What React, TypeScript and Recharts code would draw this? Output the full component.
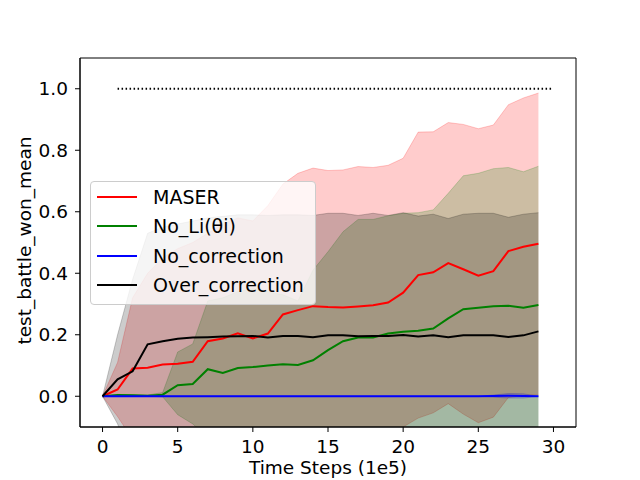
import React from "react";
import { ComposedChart, Area, Line, XAxis, YAxis, Legend, ReferenceArea } from "recharts";

// training steps (x 1e5)
const STEPS = [0, 1, 2, 3, 4, 5, 6, 7, 8, 9, 10, 11, 12, 13, 14, 15, 16, 17, 18, 19, 20, 21, 22, 23, 24, 25, 26, 27, 28, 29];

const MASER_MEAN = [0, 0.022, 0.09, 0.093, 0.103, 0.106, 0.112, 0.179, 0.188, 0.205, 0.188, 0.204, 0.266, 0.28, 0.293, 0.29, 0.289, 0.292, 0.296, 0.305, 0.337, 0.394, 0.403, 0.433, 0.413, 0.392, 0.407, 0.472, 0.486, 0.496];
const MASER_HI = [0, 0.11, 0.32, 0.4, 0.45, 0.48, 0.5, 0.53, 0.56, 0.58, 0.57, 0.62, 0.69, 0.725, 0.742, 0.734, 0.736, 0.747, 0.744, 0.751, 0.774, 0.859, 0.86, 0.89, 0.884, 0.87, 0.882, 0.948, 0.97, 0.986];
const MASER_LO = [0, -0.066, -0.14, -0.214, -0.244, -0.268, -0.276, -0.172, -0.184, -0.17, -0.194, -0.212, -0.158, -0.165, -0.156, -0.154, -0.158, -0.163, -0.152, -0.141, -0.1, -0.071, -0.054, -0.024, -0.058, -0.086, -0.068, -0.004, 0.002, 0.006];

const NOLI_MEAN = [0, 0.004, 0.003, 0.002, 0.005, 0.036, 0.04, 0.088, 0.076, 0.092, 0.095, 0.1, 0.104, 0.102, 0.117, 0.15, 0.179, 0.191, 0.191, 0.204, 0.21, 0.213, 0.22, 0.253, 0.283, 0.288, 0.293, 0.294, 0.288, 0.297];
const NOLI_HI = [0, 0.006, 0.005, 0.004, 0.012, 0.144, 0.17, 0.31, 0.32, 0.34, 0.35, 0.34, 0.33, 0.31, 0.41, 0.47, 0.535, 0.575, 0.575, 0.587, 0.595, 0.597, 0.606, 0.66, 0.717, 0.725, 0.74, 0.744, 0.73, 0.748];
const NOLI_LO = [0, 0.002, 0.001, 0, -0.002, -0.06, -0.09, -0.134, -0.168, -0.156, -0.16, -0.14, -0.122, -0.106, -0.176, -0.17, -0.177, -0.193, -0.193, -0.179, -0.175, -0.171, -0.166, -0.154, -0.151, -0.149, -0.154, -0.156, -0.154, -0.154];

const NOCORR_MEAN = [0, 0, 0, 0, 0, 0, 0, 0, 0, 0, 0, 0, 0, 0, 0, 0, 0, 0, 0, 0, 0, 0, 0, 0, 0, 0, 0.001, 0.002, 0.001, 0];
const NOCORR_HI = [0, 0, 0, 0, 0, 0, 0, 0, 0, 0, 0, 0, 0, 0, 0, 0, 0, 0, 0, 0, 0, 0, 0, 0, 0, 0, 0.004, 0.009, 0.008, 0];
const NOCORR_LO = [0, 0, 0, 0, 0, 0, 0, 0, 0, 0, 0, 0, 0, 0, 0, 0, 0, 0, 0, 0, 0, 0, 0, 0, 0, 0, -0.003, -0.006, -0.006, 0];

const OVER_MEAN = [0, 0.055, 0.081, 0.169, 0.179, 0.187, 0.191, 0.192, 0.194, 0.195, 0.196, 0.191, 0.196, 0.196, 0.192, 0.198, 0.198, 0.195, 0.196, 0.196, 0.199, 0.194, 0.198, 0.192, 0.198, 0.198, 0.198, 0.193, 0.198, 0.211];
const OVER_HI = [0, 0.2, 0.38, 0.53, 0.55, 0.56, 0.57, 0.58, 0.585, 0.59, 0.59, 0.588, 0.59, 0.59, 0.588, 0.595, 0.595, 0.588, 0.595, 0.588, 0.597, 0.586, 0.592, 0.578, 0.592, 0.595, 0.595, 0.582, 0.592, 0.597];
const OVER_LO = [0, -0.09, -0.218, -0.192, -0.192, -0.186, -0.188, -0.196, -0.197, -0.2, -0.198, -0.206, -0.198, -0.198, -0.204, -0.199, -0.199, -0.198, -0.203, -0.196, -0.199, -0.198, -0.196, -0.194, -0.196, -0.199, -0.199, -0.196, -0.196, -0.175];

// dotted target line (won rate 1.0)
const TARGET_STEPS = [1, 30];
const TARGET_WON = 1.0;

const X_DOMAIN = [-1.5, 31.5];
const Y_DOMAIN = [-0.1, 1.1];
const X_TICKS = [0, 5, 10, 15, 20, 25, 30];
const Y_TICKS = [0, 0.2, 0.4, 0.6, 0.8, 1.0];

const SERIES = [
  { key: "maser", label: "MASER", color: "#ff0000", mean: MASER_MEAN, lo: MASER_LO, hi: MASER_HI },
  { key: "noli", label: "No_Li(θi)", color: "#008000", mean: NOLI_MEAN, lo: NOLI_LO, hi: NOLI_HI },
  { key: "nocorr", label: "No_correction", color: "#0000ff", mean: NOCORR_MEAN, lo: NOCORR_LO, hi: NOCORR_HI },
  { key: "over", label: "Over_correction", color: "#000000", mean: OVER_MEAN, lo: OVER_LO, hi: OVER_HI },
];

const data = STEPS.map((x, i) => {
  const row: Record<string, any> = { x };
  SERIES.forEach((s) => {
    row[s.key] = s.mean[i];
    row[s.key + "Band"] = [s.lo[i], s.hi[i]];
  });
  return row;
});

const targetData = TARGET_STEPS.map((x) => ({ x, won: TARGET_WON }));

const FONT = "DejaVu Sans";
const FONT_SIZE = 18.5;
const TICK = { fill: "#000", fontSize: FONT_SIZE, fontFamily: FONT };

function LegendBox() {
  return (
    <div
      style={{
        boxSizing: "border-box",
        width: 226,
        height: 124,
        paddingLeft: 6,
        background: "rgba(255,255,255,0.8)",
        border: "1px solid #cccccc",
        borderRadius: 4,
        fontFamily: FONT,
        fontSize: 19,
        color: "#000",
      }}
    >
      {SERIES.map((s) => (
        <div key={s.key} style={{ display: "flex", alignItems: "center", height: 29.5 }}>
          <div style={{ width: 40, height: 2, background: s.color, marginRight: 16 }} />
          <span style={{ lineHeight: "20px" }}>{s.label}</span>
        </div>
      ))}
    </div>
  );
}

export default function App() {
  return (
    <div style={{ position: "absolute", left: 0, top: 0, width: 640, height: 480, background: "#fff", fontFamily: FONT }}>
      <ComposedChart width={640} height={480} data={data} margin={{ top: 58, right: 64, bottom: 0, left: 10 }}>
        <XAxis
          dataKey="x"
          type="number"
          domain={X_DOMAIN}
          ticks={X_TICKS}
          interval={0}
          allowDataOverflow
          height={53}
          tick={TICK}
          tickSize={5}
          tickMargin={8}
          stroke="#000"
          label={{
            content: (p: any) => {
              const vb = p.viewBox;
              return (
                <text x={vb.x + vb.width / 2} y={vb.y + 47} textAnchor="middle" fontSize={FONT_SIZE} fontFamily={FONT} fill="#000">
                  Time Steps (1e5)
                </text>
              );
            },
          }}
        />
        <YAxis
          type="number"
          domain={Y_DOMAIN}
          ticks={Y_TICKS}
          interval={0}
          allowDataOverflow
          width={70}
          tick={TICK}
          tickSize={5}
          tickMargin={7}
          tickFormatter={(v: number) => v.toFixed(1)}
          stroke="#000"
          label={{
            content: (p: any) => {
              const vb = p.viewBox;
              const cx = vb.x + 21;
              const cy = vb.y + vb.height / 2 - 2;
              return (
                <text x={cx} y={cy} transform={`rotate(-90 ${cx} ${cy})`} textAnchor="middle" fontSize={FONT_SIZE} fontFamily={FONT} fill="#000">
                  test_battle_won_mean
                </text>
              );
            },
          }}
        />

        {SERIES.map((s) => (
          <Area
            key={s.key + "Band"}
            dataKey={s.key + "Band"}
            type="linear"
            fill={s.color}
            fillOpacity={0.2}
            stroke={s.color}
            strokeOpacity={0.2}
            strokeWidth={1}
            dot={false}
            activeDot={false}
            isAnimationActive={false}
          />
        ))}
        {SERIES.map((s) => (
          <Line
            key={s.key}
            dataKey={s.key}
            type="linear"
            stroke={s.color}
            strokeWidth={2}
            dot={false}
            activeDot={false}
            isAnimationActive={false}
          />
        ))}
        <Line
          data={targetData}
          dataKey="won"
          type="linear"
          stroke="#000"
          strokeWidth={2}
          strokeDasharray="1.5 2.5"
          dot={false}
          activeDot={false}
          isAnimationActive={false}
        />
        {/* axes frame */}
        <ReferenceArea
          x1={X_DOMAIN[0]}
          x2={X_DOMAIN[1]}
          y1={Y_DOMAIN[0]}
          y2={Y_DOMAIN[1]}
          fill="none"
          stroke="#000"
          strokeWidth={1}
          ifOverflow="visible"
        />
        <Legend
          layout="vertical"
          align="center"
          verticalAlign="middle"
          wrapperStyle={{ left: 90, top: 181, width: 226 }}
          content={() => <LegendBox />}
        />
      </ComposedChart>
    </div>
  );
}
